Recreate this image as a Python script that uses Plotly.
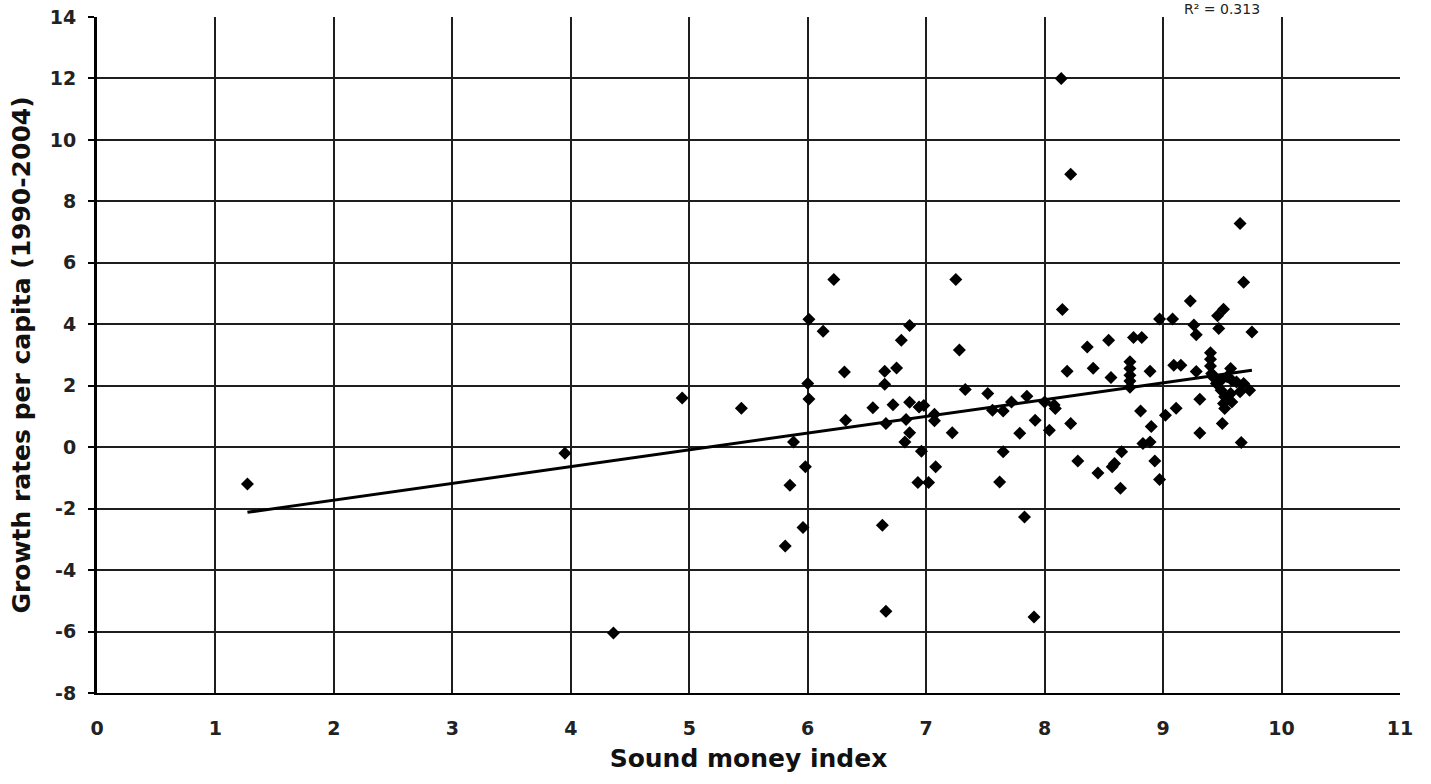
import plotly.graph_objects as go

sound_money = [
    1.27, 3.95, 4.36, 4.94, 5.44, 5.81, 5.85, 5.88, 5.96, 5.98,
    6.00, 6.01, 6.01, 6.13, 6.22, 6.31, 6.32, 6.55, 6.63, 6.65,
    6.65, 6.66, 6.66, 6.72, 6.75, 6.79, 6.82, 6.83, 6.86, 6.86,
    6.86, 6.93, 6.94, 6.96, 6.98, 7.02, 7.07, 7.07, 7.08, 7.22,
    7.25, 7.28, 7.33, 7.52, 7.56, 7.62, 7.65, 7.65, 7.72, 7.79,
    7.83, 7.85, 7.91, 7.92, 8.00, 8.04, 8.08, 8.09, 8.14, 8.15,
    8.19, 8.22, 8.22, 8.28, 8.36, 8.41, 8.45, 8.54, 8.56, 8.57,
    8.59, 8.64, 8.65, 8.72, 8.72, 8.72, 8.72, 8.72, 8.75, 8.81,
    8.82, 8.83, 8.89, 8.89, 8.90, 8.93, 8.97, 8.97, 9.02, 9.08,
    9.09, 9.11, 9.15, 9.23, 9.26, 9.28, 9.28, 9.31, 9.31, 9.40,
    9.40, 9.40, 9.41, 9.42, 9.45, 9.46, 9.47, 9.49, 9.49, 9.50,
    9.51, 9.51, 9.52, 9.52, 9.54, 9.57, 9.57, 9.58, 9.58, 9.62,
    9.65, 9.65, 9.66, 9.68, 9.68, 9.73, 9.75,
]
growth = [
    -1.20, -0.20, -6.05, 1.60, 1.27, -3.22, -1.24, 0.17, -2.61, -0.64,
    2.07, 1.57, 4.16, 3.77, 5.46, 2.45, 0.88, 1.28, -2.54, 2.47,
    2.05, 0.77, -5.34, 1.38, 2.58, 3.48, 0.17, 0.90, 3.96, 1.46,
    0.47, -1.15, 1.31, -0.13, 1.36, -1.15, 1.07, 0.86, -0.64, 0.47,
    5.46, 3.16, 1.88, 1.75, 1.20, -1.13, 1.18, -0.15, 1.47, 0.45,
    -2.27, 1.66, -5.53, 0.88, 1.47, 0.55, 1.37, 1.26, 12.00, 4.48,
    2.47, 8.88, 0.77, -0.45, 3.26, 2.57, -0.84, 3.48, 2.27, -0.64,
    -0.53, -1.34, -0.15, 2.78, 2.56, 2.34, 2.15, 1.95, 3.57, 1.18,
    3.57, 0.12, 2.47, 0.17, 0.67, -0.45, 4.17, -1.05, 1.04, 4.17,
    2.67, 1.27, 2.67, 4.76, 3.98, 3.66, 2.46, 1.56, 0.46, 3.07,
    2.86, 2.64, 2.40, 2.29, 2.07, 4.28, 3.86, 2.18, 1.85, 0.77,
    1.42, 4.49, 1.64, 1.26, 2.29, 2.56, 1.75, 2.18, 1.47, 2.12,
    1.80, 7.28, 0.15, 2.07, 5.37, 1.85, 3.75,
]

trend_x = [1.27, 9.75]
trend_y = [-2.12, 2.50]

x_ticks = list(range(0, 12))
y_ticks = list(range(-8, 15, 2))

r2_text = "R² = 0.313"
x_title = "Sound money index"
y_title = "Growth rates per capita (1990-2004)"

FONT = "DejaVu Sans"
GRID = "#1e1e1e"

fig = go.Figure()
fig.add_trace(go.Scatter(
    x=sound_money, y=growth, mode="markers",
    marker=dict(symbol="diamond", size=10, color="black", line=dict(width=0)),
    showlegend=False, hoverinfo="x+y",
))
fig.add_trace(go.Scatter(
    x=trend_x, y=trend_y, mode="lines",
    line=dict(color="black", width=3),
    showlegend=False, hoverinfo="skip",
))

fig.update_layout(
    width=1431, height=784,
    margin=dict(l=97, r=31, t=17, b=91, autoexpand=False),
    paper_bgcolor="white", plot_bgcolor="white",
    font=dict(family=FONT, color="#1a1a1a"),
    xaxis=dict(
        range=[0, 11], tickvals=x_ticks, ticktext=[str(v) for v in x_ticks],
        showgrid=True, gridcolor=GRID, gridwidth=2,
        zeroline=False, showline=True, linecolor="black", linewidth=2,
        ticks="", ticklabelstandoff=17,
        tickfont=dict(family=FONT, size=19, weight="bold", color="#222"),
        title=dict(text=x_title, standoff=12,
                   font=dict(family=FONT, size=25, weight="bold", color="#111")),
        automargin=False, fixedrange=True,
    ),
    yaxis=dict(
        range=[-8, 14], tickvals=y_ticks, ticktext=[str(v) for v in y_ticks],
        showgrid=True, gridcolor=GRID, gridwidth=2,
        zeroline=False, showline=True, linecolor="black", linewidth=3,
        ticks="outside", ticklen=6, tickwidth=2, tickcolor="black",
        ticklabelstandoff=8,
        tickfont=dict(family=FONT, size=19, weight="bold", color="#222"),
        title=dict(text=y_title, standoff=12,
                   font=dict(family=FONT, size=25, weight="bold", color="#111")),
        automargin=False, fixedrange=True,
    ),
    annotations=[dict(
        text=r2_text, xref="paper", yref="paper",
        x=(1222 - 97) / 1303, y=1 + 17 / 676,
        xanchor="center", yanchor="top", showarrow=False,
        borderpad=0,
        font=dict(family=FONT, size=14, color="#222"),
    )],
)

fig.write_html("out.html")
